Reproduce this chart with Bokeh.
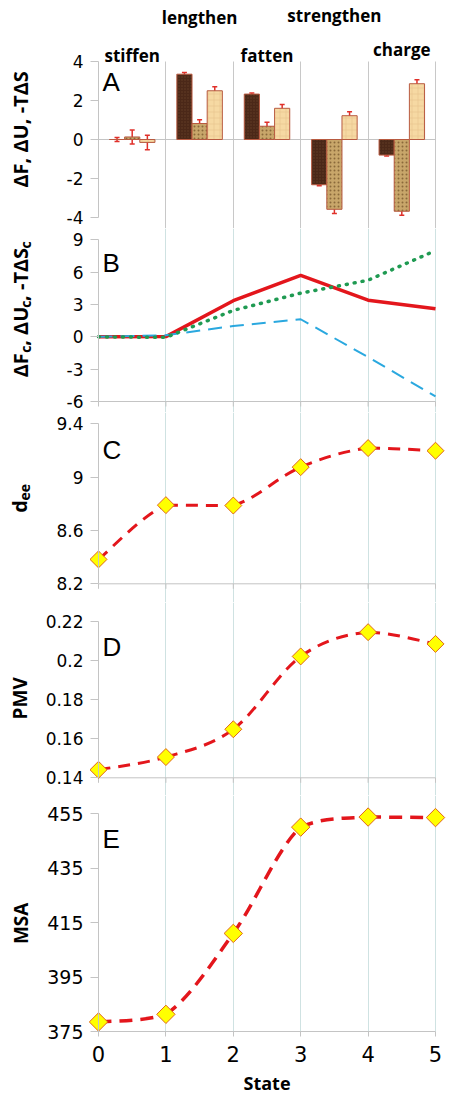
import math
from bokeh.plotting import figure
from bokeh.layouts import column
from bokeh.models import Range1d, FixedTicker, Label, Whisker, TeeHead, ColumnDataSource, Grid
from bokeh.core.properties import value
from bokeh.embed import file_html
from bokeh.resources import INLINE

# ---------------- data ----------------
states = [0, 1, 2, 3, 4, 5]
state_tick_labels = ["0", "1", "2", "3", "4", "5"]
transitions = ["stiffen", "lengthen", "fatten", "strengthen", "charge"]
transition_x = [0.5, 1.5, 2.5, 3.5, 4.5]

# panel A: per-transition changes
dF = [0.00, 3.35, 2.33, -2.32, -0.80]
dF_err = [0.10, 0.08, 0.05, 0.05, 0.05]
dU = [0.13, 0.82, 0.68, -3.58, -3.68]
dU_err = [0.36, 0.19, 0.20, 0.22, 0.20]
mTdS = [-0.15, 2.50, 1.60, 1.22, 2.86]
mTdS_err = [0.37, 0.20, 0.20, 0.20, 0.20]

# panel B: cumulative changes
dFc = [0.00, 0.02, 3.35, 5.70, 3.40, 2.60]
dUc = [0.00, 0.15, 1.00, 1.63, -1.88, -5.53]
mTdSc = [0.00, -0.05, 2.45, 4.05, 5.25, 8.00]

# panels C-E
dee = [8.383, 8.790, 8.787, 9.075, 9.218, 9.198]
pmv = [0.1441, 0.1506, 0.1648, 0.2020, 0.2144, 0.2084]
msa = [378.5, 381.3, 411.0, 450.0, 453.7, 453.5]

A_ticks = [-4, -2, 0, 2, 4]
A_tick_labels = ["-4", "-2", "0", "2", "4"]
B_ticks = [-6, -3, 0, 3, 6, 9]
B_tick_labels = ["-6", "-3", "0", "3", "6", "9"]
C_ticks = [8.2, 8.6, 9.0, 9.4]
C_tick_labels = ["8.2", "8.6", "9", "9.4"]
D_ticks = [0.14, 0.16, 0.18, 0.20, 0.22]
D_tick_labels = ["0.14", "0.16", "0.18", "0.2", "0.22"]
E_ticks = [375, 395, 415, 435, 455]
E_tick_labels = ["375", "395", "415", "435", "455"]

# ---------------- style ----------------
AXIS = "#c4c4c4"
GRID = "#cfe2e2"
GRID_A = "#c8c8c8"
RED = "#e3161c"
BLUE = "#2aa8df"
GREEN = "#1f9a52"
DFILL = "#ffff00"
DLINE = "#e0661a"
ERR = "#e0302a"
BAR_LINE = "#b85a40"
TICK_FONT = "DejaVu Sans"
TITLE_FONT = "Open Sans"
HAS_CROSS_BOUNDS = "cross_bounds" in Grid.properties()

# ---------------- layout (page pixels) ----------------
W_PAGE = 450
X0_PAGE = 98.0      # page x of state 0
PPX = 67.4          # pixels per state
XR = Range1d(-X0_PAGE / PPX, (W_PAGE - X0_PAGE) / PPX)


def xd(page_x):
    return (page_x - X0_PAGE) / PPX


def make_panel(ftop, fh, tv, tp, bv, bp, grid_color=GRID, grid_lo=None, grid_hi=None):
    ppu = (bp - tp) / (tv - bv)
    ytop = tv + (tp - ftop) / ppu
    ybot = ytop - fh / ppu
    p = figure(frame_width=W_PAGE, frame_height=fh, x_range=XR, y_range=Range1d(ybot, ytop),
               output_backend="svg", toolbar_location=None, min_border=0,
               min_border_left=0, min_border_right=0, min_border_top=0,
               min_border_bottom=0)
    p.outline_line_color = None
    p.background_fill_color = "white"
    p.border_fill_color = "white"
    p.ygrid.visible = False
    p.xaxis.visible = False
    lo = ybot if grid_lo is None else grid_lo
    hi = ytop if grid_hi is None else grid_hi
    if HAS_CROSS_BOUNDS:
        p.xgrid.ticker = FixedTicker(ticks=states[1:])
        p.xgrid.grid_line_color = grid_color
        p.xgrid.grid_line_width = 1
        p.xgrid.cross_bounds = (lo, hi)
    else:
        p.xgrid.visible = False
        gx = states[1:]
        p.segment(x0=gx, y0=[lo] * len(gx), x1=gx, y1=[hi] * len(gx),
                  line_color=grid_color, line_width=1)

    def yd(page_y):
        return ytop - (page_y - ftop) / ppu
    return p, yd, ppu


def style_yaxis(p, ticks, labels, size="17px"):
    ax = p.yaxis[0]
    ax.fixed_location = 0
    ax.bounds = (min(ticks), max(ticks))
    ax.ticker = FixedTicker(ticks=ticks)
    ax.major_label_overrides = dict(zip(ticks, labels))
    ax.axis_line_color = AXIS
    ax.major_tick_line_color = AXIS
    ax.major_tick_out = 8
    ax.major_tick_in = 0
    ax.minor_tick_line_color = None
    ax.major_label_standoff = 7
    ax.major_label_text_font = TICK_FONT
    ax.major_label_text_font_size = size
    ax.major_label_text_color = "black"


def bottom_axis(p, yb, ppu):
    p.segment(x0=[states[0]], y0=[yb], x1=[states[-1]], y1=[yb], line_color=AXIS, line_width=1)
    p.segment(x0=states, y0=[yb] * len(states), x1=states,
              y1=[yb - 5 / ppu] * len(states), line_color=AXIS, line_width=1)


EM = {'Δ': 0.67, 'F': 0.565, 'U': 0.725, 'T': 0.579, 'S': 0.549, ',': 0.245, ' ': 0.26,
      '-': 0.32, 'c': 0.489, 'd': 0.613, 'e': 0.576, 'P': 0.64, 'M': 0.9, 'V': 0.66, 'A': 0.72}


def text_len(s, size):
    return sum(EM.get(ch, 0.6) for ch in s) * size


def add_title(p, yd, pieces, center_y, base_x=20, sub_dx=5):
    total = sum(text_len(t, s) for t, s, sub in pieces)
    y = center_y + total / 2
    for t, s, sub in pieces:
        p.add_layout(Label(x=xd(base_x + (sub_dx if sub else 0)), y=yd(y), text=t,
                           angle=math.pi / 2, text_align="left", text_baseline="alphabetic",
                           text_font=TITLE_FONT, text_font_style="bold",
                           text_font_size=f"{s}px", text_color="black"))
        y -= text_len(t, s)


def add_letter(p, yd, letter, base_y):
    p.text(x=[xd(102)], y=[yd(base_y)], text=[letter], text_font=value("Liberation Sans"),
           text_font_size="26px", text_baseline="alphabetic", text_align="left",
           text_color="black")


def smooth_curve(p, xs, ys, color, width, dash):
    # cardinal-spline smoothing (Bezier) with control points kept within each segment
    n = len(xs)
    x0, y0, x1, y1, cx0, cy0, cx1, cy1 = [], [], [], [], [], [], [], []
    for i in range(n - 1):
        a = i - 1 if i > 0 else i
        b = i + 2 if i + 2 < n else i + 1
        lo, hi = min(ys[i], ys[i + 1]), max(ys[i], ys[i + 1])
        x0.append(xs[i]); y0.append(ys[i]); x1.append(xs[i + 1]); y1.append(ys[i + 1])
        cx0.append(xs[i] + (xs[i + 1] - xs[a]) / 6)
        cy0.append(min(hi, max(lo, ys[i] + (ys[i + 1] - ys[a]) / 6)))
        cx1.append(xs[i + 1] - (xs[b] - xs[i]) / 6)
        cy1.append(min(hi, max(lo, ys[i + 1] - (ys[b] - ys[i]) / 6)))
    p.bezier(x0=x0, y0=y0, x1=x1, y1=y1, cx0=cx0, cy0=cy0, cx1=cx1, cy1=cy1,
             line_color=color, line_width=width, line_dash=dash)


def diamonds(p, ys, size=12):
    p.scatter(x=states, y=ys, marker="square", angle=math.pi / 4, size=size,
              fill_color=DFILL, line_color=DLINE, line_width=1)


# ---------------- panel A (with transition labels above) ----------------
pA, ydA, ppuA = make_panel(0, 228, 4, 61, -4, 217, grid_color=GRID_A, grid_hi=A_ticks[-1])
style_yaxis(pA, A_ticks, A_tick_labels)
pA.segment(x0=[states[0]], y0=[0], x1=[states[-1]], y1=[0], line_color=AXIS, line_width=1)

TOP_LABEL_BASE_PX = [55, 16.5, 55, 14.5, 49]
pA.text(x=transition_x, y=[ydA(b) for b in TOP_LABEL_BASE_PX], text=transitions,
        text_font=value(TITLE_FONT), text_font_style="bold", text_font_size="17px",
        text_align="center", text_baseline="alphabetic", text_color="black")

BW = 0.225
series = [
    (dF, dF_err, -BW, "#4b2818", "#6a432c", "dot", 3, 0.8),
    (dU, dU_err, 0.0, "#c8a66a", "#7b5a2e", "dot", 4, 1.0),
    (mTdS, mTdS_err, BW, "#f6d9a3", "#e3bd84", "cross", 6, 0.6),
]
for vals, errs, off, fc, hc, hp, hs, hw in series:
    xs = [t + off for t in transition_x]
    pA.vbar(x=xs, width=BW, top=vals, bottom=0, fill_color=fc, line_color=BAR_LINE,
            line_width=1, hatch_pattern=value(hp), hatch_color=hc, hatch_scale=hs,
            hatch_weight=hw, hatch_alpha=0.8)
    src = ColumnDataSource(dict(x=xs, upper=[v + e for v, e in zip(vals, errs)],
                                lower=[v - e for v, e in zip(vals, errs)]))
    pA.add_layout(Whisker(source=src, base="x", upper="upper", lower="lower",
                          dimension="height", line_color=ERR, line_width=1.5,
                          upper_head=TeeHead(size=5, line_color=ERR, line_width=1.5),
                          lower_head=TeeHead(size=5, line_color=ERR, line_width=1.5)))
add_letter(pA, ydA, "A", 81)
add_title(pA, ydA, [("ΔF, ΔU, -TΔS", 20, False)], 129.5)

# ---------------- panel B ----------------
pB, ydB, ppuB = make_panel(228, 184, 9, 239.3, -6, 401)
style_yaxis(pB, B_ticks, B_tick_labels)
bottom_axis(pB, B_ticks[0], ppuB)
pB.line(states, dFc, line_color=RED, line_width=3.5)
pB.line(states, dUc, line_color=BLUE, line_width=2, line_dash="14 8")
pB.line(states, mTdSc, line_color=GREEN, line_width=3.5, line_dash="1 7", line_cap="round")
add_letter(pB, ydB, "B", 262)
add_title(pB, ydB, [("ΔF", 20, False), ("c", 14, True), (", ΔU", 20, False), ("c", 14, True),
                    (", -TΔS", 20, False), ("c", 14, True)], 309)

# ---------------- panel C ----------------
pC, ydC, ppuC = make_panel(412, 190, 9.4, 423.3, 8.2, 583.3)
style_yaxis(pC, C_ticks, C_tick_labels)
bottom_axis(pC, C_ticks[0], ppuC)
smooth_curve(pC, states, dee, RED, 3, "12 8")
diamonds(pC, dee)
add_letter(pC, ydC, "C", 449)
add_title(pC, ydC, [("d", 20, False), ("ee", 14, True)], 498, base_x=19)

# ---------------- panel D ----------------
pD, ydD, ppuD = make_panel(602, 193, 0.22, 620.7, 0.14, 777.3)
style_yaxis(pD, D_ticks, D_tick_labels)
bottom_axis(pD, D_ticks[0], ppuD)
smooth_curve(pD, states, pmv, RED, 3, "12 8")
diamonds(pD, pmv)
add_letter(pD, ydD, "D", 646)
add_title(pD, ydD, [("PMV", 19, False)], 698, base_x=19)

# ---------------- panel E (with State axis) ----------------
pE, ydE, ppuE = make_panel(795, 298, 455, 813, 375, 1031, grid_lo=E_ticks[0])
style_yaxis(pE, E_ticks, E_tick_labels, size="19px")
xa = pE.xaxis[0]
xa.visible = True
xa.fixed_location = E_ticks[0]
xa.bounds = (states[0], states[-1])
xa.ticker = FixedTicker(ticks=states)
xa.major_label_overrides = dict(zip(states, state_tick_labels))
xa.axis_line_color = AXIS
xa.major_tick_line_color = AXIS
xa.major_tick_out = 5
xa.major_tick_in = 0
xa.minor_tick_line_color = None
xa.major_label_standoff = 9
xa.major_label_text_font = TICK_FONT
xa.major_label_text_font_size = "21px"
xa.major_label_text_color = "black"
smooth_curve(pE, states, msa, RED, 3.5, "13 8")
diamonds(pE, msa, size=13)
add_letter(pE, ydE, "E", 838)
add_title(pE, ydE, [("MSA", 19, False)], 923, base_x=20)
pE.add_layout(Label(x=(states[0] + states[-1]) / 2, y=ydE(1082), text="State",
                    text_align="center", text_baseline="alphabetic", text_font=TITLE_FONT,
                    text_font_style="bold", text_font_size="18px", text_color="black"))

layout = column(pA, pB, pC, pD, pE, spacing=0)
open("out.html", "w").write(file_html(layout, INLINE))
